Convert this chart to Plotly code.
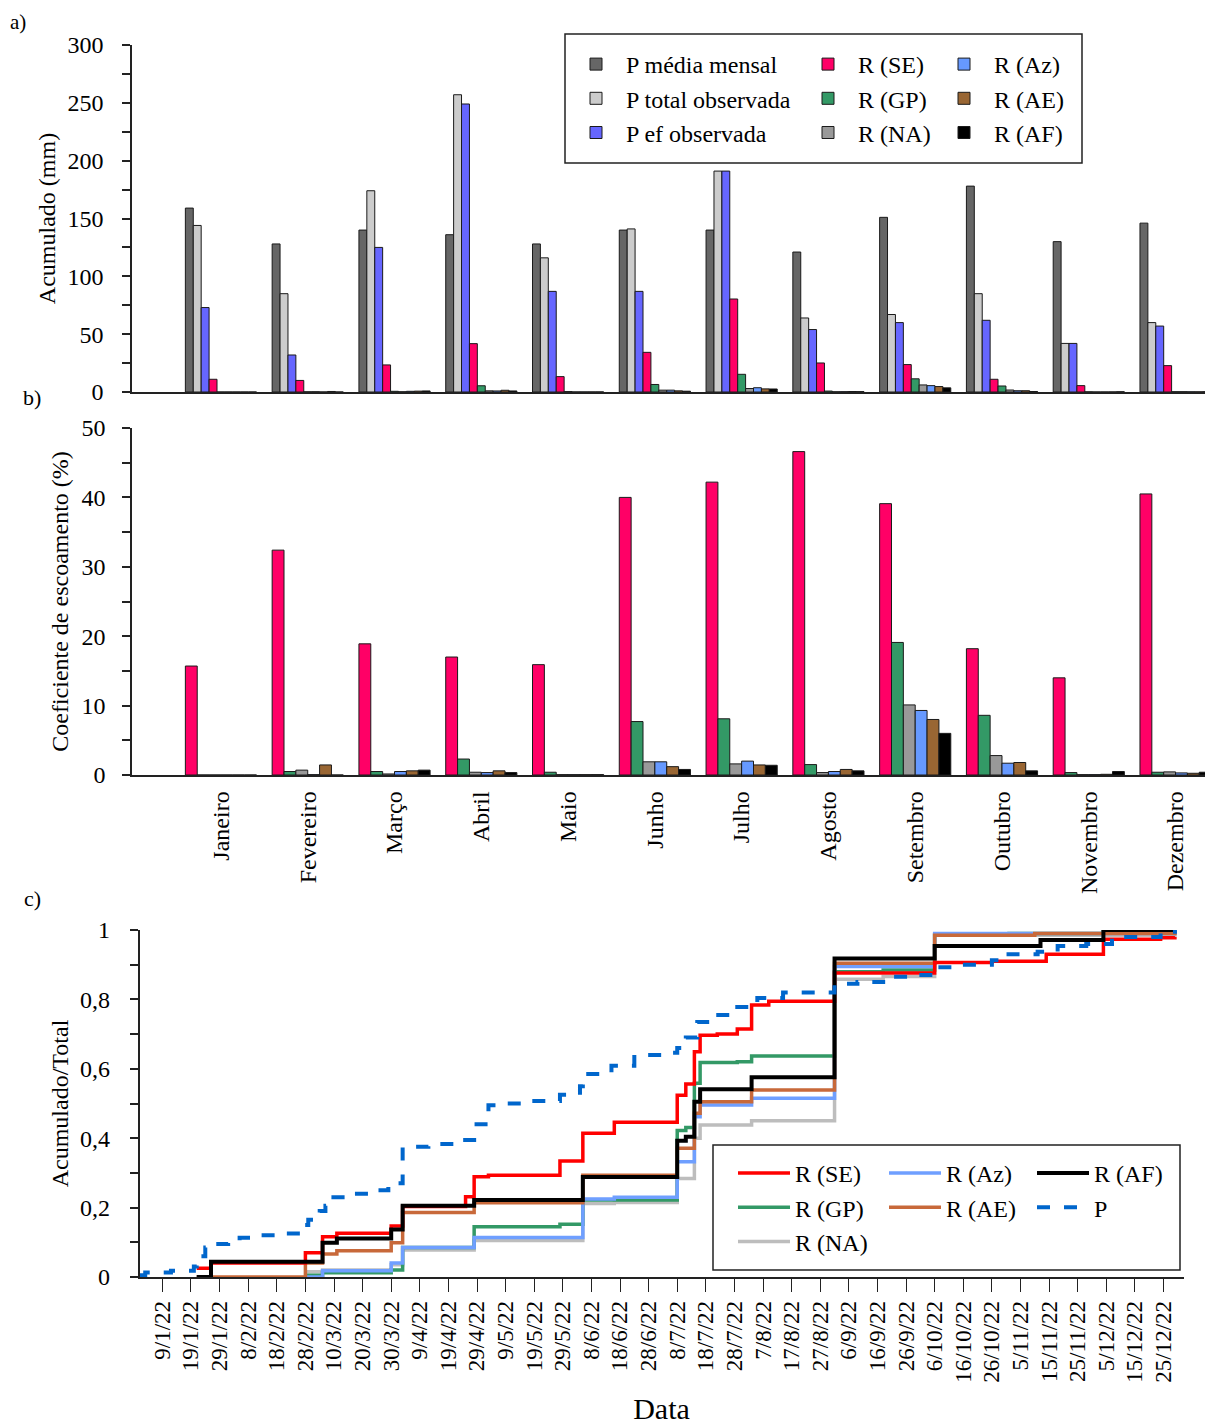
import plotly.graph_objects as go

W, H = 1213, 1424
FONT = "Liberation Serif"

# ---------------- data: panels a and b ----------------
MONTHS = ["Janeiro", "Fevereiro", "Março", "Abril", "Maio", "Junho", "Julho",
          "Agosto", "Setembro", "Outubro", "Novembro", "Dezembro"]

P_MEDIA = [159, 128, 140, 136, 128, 140, 140, 121, 151, 178, 130, 146]
P_TOTAL = [144, 85, 174, 257, 116, 141, 191, 64, 67, 85, 42, 60]
P_EF = [73, 32, 125, 249, 87, 87, 191, 54, 60, 62, 42, 57]
R_SE = [11, 10, 23.4, 41.8, 13.3, 34.3, 80.4, 25.1, 23.7, 11, 5.5, 22.8]
R_GP = [0, 0.16, 0.6, 5.4, 0.35, 6.5, 15.3, 0.8, 11.4, 5.2, 0.15, 0.23]
R_NA = [0, 0.22, 0.2, 1.0, 0.04, 1.6, 3.0, 0.2, 6.1, 1.7, 0.02, 0.26]
R_AZ = [0, 0.02, 0.6, 0.9, 0.04, 1.6, 3.7, 0.27, 5.5, 1.1, 0.02, 0.17]
R_AE = [0, 0.46, 0.75, 1.5, 0.04, 1.0, 2.7, 0.43, 4.7, 1.1, 0.04, 0.14]
R_AF = [0, 0, 0.9, 0.9, 0.04, 0.7, 2.6, 0.32, 3.6, 0.4, 0.2, 0.23]

C_SE = [15.7, 32.4, 18.9, 17.0, 15.9, 40.0, 42.2, 46.6, 39.1, 18.2, 14.0, 40.5]
C_GP = [0, 0.5, 0.5, 2.3, 0.4, 7.7, 8.1, 1.5, 19.1, 8.6, 0.35, 0.4]
C_NA = [0, 0.7, 0.15, 0.4, 0.05, 1.9, 1.6, 0.35, 10.1, 2.8, 0.05, 0.45]
C_AZ = [0, 0.05, 0.5, 0.35, 0.05, 1.9, 2.0, 0.5, 9.3, 1.7, 0.05, 0.3]
C_AE = [0, 1.45, 0.6, 0.6, 0.05, 1.2, 1.45, 0.8, 8.0, 1.8, 0.1, 0.25]
C_AF = [0, 0, 0.7, 0.35, 0.05, 0.8, 1.4, 0.6, 6.0, 0.6, 0.5, 0.4]

# ---------------- data: panel c (cumulative fraction, step series) ----------------
SE_DATES = ["2022-01-21", "2022-01-26", "2022-02-28", "2022-03-06", "2022-03-11", "2022-03-30",
            "2022-04-03", "2022-04-25", "2022-04-28", "2022-05-03", "2022-05-28", "2022-06-05",
            "2022-06-16", "2022-07-08", "2022-07-11", "2022-07-14", "2022-07-16", "2022-07-22",
            "2022-07-29", "2022-08-03", "2022-08-09", "2022-09-01", "2022-10-06", "2022-10-26",
            "2022-11-14", "2022-12-04", "2022-12-24", "2022-12-29"]
SE_VALS = [0.025, 0.04, 0.07, 0.116, 0.126, 0.147, 0.203, 0.231, 0.289, 0.293, 0.334, 0.414,
           0.446, 0.524, 0.556, 0.649, 0.697, 0.70, 0.715, 0.784, 0.795, 0.876, 0.906, 0.91,
           0.93, 0.973, 0.978, 0.98]

GP_DATES = ["2022-02-28", "2022-03-06", "2022-03-30", "2022-04-03", "2022-04-28", "2022-05-28",
            "2022-06-05", "2022-07-08", "2022-07-11", "2022-07-14", "2022-07-16", "2022-07-29",
            "2022-08-03", "2022-09-01", "2022-09-18", "2022-10-06", "2022-11-01", "2022-12-04",
            "2022-12-29"]
GP_VALS = [0.005, 0.012, 0.02, 0.085, 0.145, 0.152, 0.222, 0.422, 0.431, 0.558, 0.618, 0.62,
           0.637, 0.88, 0.885, 0.985, 0.99, 0.995, 0.997]

NA_DATES = ["2022-02-28", "2022-03-06", "2022-03-30", "2022-04-03", "2022-04-28", "2022-06-05",
            "2022-06-16", "2022-07-08", "2022-07-14", "2022-07-16", "2022-08-03", "2022-09-01",
            "2022-09-18", "2022-10-06", "2022-12-29"]
NA_VALS = [0.015, 0.02, 0.035, 0.078, 0.105, 0.212, 0.215, 0.284, 0.40, 0.438, 0.45, 0.858,
           0.866, 0.985, 0.995]

AZ_DATES = ["2022-02-28", "2022-03-06", "2022-03-30", "2022-04-03", "2022-04-28", "2022-06-05",
            "2022-06-16", "2022-07-08", "2022-07-14", "2022-07-16", "2022-08-03", "2022-09-01",
            "2022-10-06", "2022-12-29"]
AZ_VALS = [0.0, 0.018, 0.04, 0.085, 0.114, 0.225, 0.23, 0.332, 0.462, 0.496, 0.515, 0.895,
           0.99, 1.0]

AE_DATES = ["2022-01-21", "2022-02-28", "2022-03-06", "2022-03-11", "2022-03-30", "2022-04-03",
            "2022-04-28", "2022-06-05", "2022-07-08", "2022-07-14", "2022-07-16", "2022-08-03",
            "2022-09-01", "2022-10-06", "2022-11-10", "2022-12-29"]
AE_VALS = [0.0, 0.04, 0.066, 0.076, 0.099, 0.186, 0.214, 0.293, 0.371, 0.472, 0.505, 0.539,
           0.904, 0.985, 0.99, 0.998]

AF_DATES = ["2022-01-21", "2022-01-26", "2022-03-06", "2022-03-11", "2022-03-30", "2022-04-03",
            "2022-04-28", "2022-06-05", "2022-07-08", "2022-07-11", "2022-07-14", "2022-07-16",
            "2022-08-03", "2022-09-01", "2022-10-06", "2022-11-12", "2022-12-04", "2022-12-29"]
AF_VALS = [0.0, 0.044, 0.099, 0.111, 0.137, 0.205, 0.222, 0.288, 0.393, 0.404, 0.505, 0.541,
           0.576, 0.918, 0.954, 0.971, 1.0, 1.0]

P_DATES = ["2022-01-01", "2022-01-03", "2022-01-12", "2022-01-20", "2022-01-21", "2022-01-24",
           "2022-01-26", "2022-02-01", "2022-02-05", "2022-02-09", "2022-02-19", "2022-02-27",
           "2022-03-01", "2022-03-05", "2022-03-07", "2022-03-09", "2022-03-13", "2022-03-17",
           "2022-03-25", "2022-03-29", "2022-04-03", "2022-04-12", "2022-04-21", "2022-04-28",
           "2022-05-03", "2022-05-08", "2022-05-17", "2022-05-28", "2022-06-04", "2022-06-05",
           "2022-06-15", "2022-06-23", "2022-07-03", "2022-07-08", "2022-07-11", "2022-07-15",
           "2022-07-20", "2022-07-28", "2022-08-05", "2022-08-14", "2022-09-01", "2022-09-09",
           "2022-09-18", "2022-09-28", "2022-10-06", "2022-10-13", "2022-10-26", "2022-10-31",
           "2022-11-11", "2022-11-18", "2022-11-28", "2022-12-07", "2022-12-16", "2022-12-24",
           "2022-12-29"]
P_VALS = [0.005, 0.013, 0.018, 0.03, 0.06, 0.085, 0.095, 0.105, 0.113, 0.12, 0.125, 0.15,
          0.165, 0.19, 0.205, 0.23, 0.237, 0.24, 0.25, 0.27, 0.375, 0.383, 0.395, 0.44,
          0.495, 0.5, 0.507, 0.525, 0.55, 0.585, 0.609, 0.64, 0.646, 0.66, 0.69, 0.735,
          0.755, 0.778, 0.804, 0.82, 0.845, 0.85, 0.865, 0.87, 0.893, 0.9, 0.913, 0.93,
          0.937, 0.954, 0.96, 0.98, 0.98, 0.995, 1.0]

TICK_DATES = ["2022-01-09", "2022-01-19", "2022-01-29", "2022-02-08", "2022-02-18", "2022-02-28",
              "2022-03-10", "2022-03-20", "2022-03-30", "2022-04-09", "2022-04-19", "2022-04-29",
              "2022-05-09", "2022-05-19", "2022-05-29", "2022-06-08", "2022-06-18", "2022-06-28",
              "2022-07-08", "2022-07-18", "2022-07-28", "2022-08-07", "2022-08-17", "2022-08-27",
              "2022-09-06", "2022-09-16", "2022-09-26", "2022-10-06", "2022-10-16", "2022-10-26",
              "2022-11-05", "2022-11-15", "2022-11-25", "2022-12-05", "2022-12-15", "2022-12-25"]
TICK_LABELS = ["9/1/22", "19/1/22", "29/1/22", "8/2/22", "18/2/22", "28/2/22",
               "10/3/22", "20/3/22", "30/3/22", "9/4/22", "19/4/22", "29/4/22",
               "9/5/22", "19/5/22", "29/5/22", "8/6/22", "18/6/22", "28/6/22",
               "8/7/22", "18/7/22", "28/7/22", "7/8/22", "17/8/22", "27/8/22",
               "6/9/22", "16/9/22", "26/9/22", "6/10/22", "16/10/22", "26/10/22",
               "5/11/22", "15/11/22", "25/11/22", "5/12/22", "15/12/22", "25/12/22"]

# ---------------- helpers (page body margin of 8 px compensated) ----------------
OFF = 8


def fx(p):
    return (p - OFF) / W


def fy(p):
    return 1 - (p - OFF) / H


BAR_COLORS = {
    "P média mensal": "#666666", "P total observada": "#cccccc", "P ef observada": "#6666ff",
    "R (SE)": "#ff0066", "R (GP)": "#339966", "R (NA)": "#999999",
    "R (Az)": "#6699ff", "R (AE)": "#996633", "R (AF)": "#000000",
}

fig = go.Figure()

# panel a
a_series = [
    ("P média mensal", P_MEDIA, "legend"), ("P total observada", P_TOTAL, "legend"),
    ("P ef observada", P_EF, "legend"), ("R (SE)", R_SE, "legend2"), ("R (GP)", R_GP, "legend2"),
    ("R (NA)", R_NA, "legend2"), ("R (Az)", R_AZ, "legend3"), ("R (AE)", R_AE, "legend3"),
    ("R (AF)", R_AF, "legend3"),
]
for name, vals, leg in a_series:
    fig.add_trace(go.Bar(
        x=MONTHS, y=vals, name=name, xaxis="x", yaxis="y", legend=leg, legendgroup=name,
        marker=dict(color=BAR_COLORS[name], line=dict(color="#1a1a1a", width=1)),
    ))

# panel b
b_series = [("R (SE)", C_SE, "legend2"), ("R (GP)", C_GP, "legend2"), ("R (NA)", C_NA, "legend2"),
            ("R (Az)", C_AZ, "legend3"), ("R (AE)", C_AE, "legend3"), ("R (AF)", C_AF, "legend3")]
for name, vals, leg in b_series:
    fig.add_trace(go.Bar(
        x=MONTHS, y=vals, name=name, xaxis="x2", yaxis="y2", legend=leg, legendgroup=name,
        showlegend=False,
        marker=dict(color=BAR_COLORS[name], line=dict(color="#1a1a1a", width=1)),
    ))

# panel c (draw order chosen so black / dashed P sit on top)
c_series = [
    ("R (NA)", NA_DATES, NA_VALS, "#bdbdbd", 3.5, "solid", "legend4", 3),
    ("R (GP)", GP_DATES, GP_VALS, "#339966", 3.5, "solid", "legend4", 2),
    ("R (Az)", AZ_DATES, AZ_VALS, "#6f9fff", 3.5, "solid", "legend5", 1),
    ("R (AE)", AE_DATES, AE_VALS, "#c8693a", 3.5, "solid", "legend5", 2),
    ("R (SE)", SE_DATES, SE_VALS, "#ff0000", 3.5, "solid", "legend4", 1),
    ("R (AF)", AF_DATES, AF_VALS, "#000000", 4, "solid", "legend6", 1),
    ("P", P_DATES, P_VALS, "#0066cc", 4, "13px,14px", "legend6", 2),
]
for name, xs, ys, col, lw, dash, leg, rank in c_series:
    fig.add_trace(go.Scatter(
        x=xs, y=ys, name=name, mode="lines", xaxis="x3", yaxis="y3",
        line=dict(color=col, width=lw, shape="hv", dash=dash),
        legend=leg, legendrank=rank,
    ))

axis_common = dict(showline=True, linecolor="#222222", linewidth=1.5, mirror=False,
                   showgrid=False, zeroline=False,
                   tickfont=dict(family=FONT, size=24, color="black"))

ylin = dict(ticks="outside", ticklen=8, tickwidth=1.5, tickcolor="#222222")
minor_style = dict(ticks="outside", ticklen=8, tickwidth=1.5, tickcolor="#222222")

leg_common = dict(bgcolor="rgba(0,0,0,0)", borderwidth=0, orientation="v",
                  xanchor="left", yanchor="top", tracegroupgap=0,
                  font=dict(family=FONT, size=24, color="black"))

fig.update_layout(
    width=W, height=H,
    margin=dict(l=0, r=0, t=0, b=0),
    paper_bgcolor="white", plot_bgcolor="white",
    template="none",
    separators=",.",
    barmode="group", bargap=0.18, bargroupgap=0,
    font=dict(family=FONT, size=24, color="black"),
    xaxis=dict(domain=[fx(132), fx(1212)], anchor="y", range=[-1.025, 11.42],
               showticklabels=False, ticks="", **axis_common),
    yaxis=dict(domain=[fy(392), fy(45)], anchor="x", range=[0, 300], dtick=50, tick0=0,
               minor=dict(dtick=25, **minor_style),
               ticklabelstandoff=14,
               title=dict(text="Acumulado (mm)", standoff=5, font=dict(family=FONT, size=24)),
               **ylin, **axis_common),
    xaxis2=dict(domain=[fx(132), fx(1212)], anchor="y2", range=[-1.025, 11.42],
                ticks="", tickangle=-90, ticklabelstandoff=5, **axis_common),
    yaxis2=dict(domain=[fy(775), fy(428)], anchor="x2", range=[0, 50], dtick=10, tick0=0,
                minor=dict(dtick=5, **minor_style),
                ticklabelstandoff=12,
                title=dict(text="Coeficiente de escoamento (%)", standoff=6,
                           font=dict(family=FONT, size=24)),
                **ylin, **axis_common),
    xaxis3=dict(domain=[fx(139.5), fx(1183.5)], anchor="y3", type="date",
                range=["2022-01-01", "2023-01-01"],
                tickmode="array", tickvals=TICK_DATES, ticktext=TICK_LABELS,
                tickangle=-90, ticks="outside", ticklen=13, tickwidth=1.2, tickcolor="#222222",
                ticklabelstandoff=0,
                title=dict(text="Data", standoff=16, font=dict(family=FONT, size=30)),
                showline=True, linecolor="#222222", linewidth=1.5, showgrid=False, zeroline=False,
                tickfont=dict(family=FONT, size=23, color="black")),
    yaxis3=dict(domain=[fy(1277), fy(930)], anchor="x3", range=[0, 1], dtick=0.2, tick0=0,
                minor=dict(dtick=0.1, **minor_style),
                ticklabelstandoff=15,
                title=dict(text="Acumulado/Total", standoff=5, font=dict(family=FONT, size=24)),
                **ylin, **axis_common),
    legend=dict(x=fx(566), y=fy(42), itemwidth=50, **leg_common),
    legend2=dict(x=fx(798), y=fy(42), itemwidth=50, **leg_common),
    legend3=dict(x=fx(934), y=fy(42), itemwidth=50, **leg_common),
    legend4=dict(x=fx(733), y=fy(1151), itemwidth=52, **leg_common),
    legend5=dict(x=fx(884), y=fy(1151), itemwidth=52, **leg_common),
    legend6=dict(x=fx(1032), y=fy(1151), itemwidth=52, **leg_common),
    shapes=[
        dict(type="rect", xref="paper", yref="paper", x0=fx(565), x1=fx(1082), y0=fy(163), y1=fy(34),
             line=dict(color="#222222", width=1.5), fillcolor="rgba(0,0,0,0)", layer="above"),
        dict(type="rect", xref="paper", yref="paper", x0=fx(713), x1=fx(1180), y0=fy(1270), y1=fy(1145),
             line=dict(color="#222222", width=1.5), fillcolor="rgba(0,0,0,0)", layer="above"),
    ],
    annotations=[
        dict(text="a)", xref="paper", yref="paper", x=0, y=1, xanchor="left", yanchor="top",
             showarrow=False, font=dict(family=FONT, size=21)),
        dict(text="b)", xref="paper", yref="paper", x=fx(21), y=fy(398), xanchor="left", yanchor="middle",
             showarrow=False, font=dict(family=FONT, size=22)),
        dict(text="c)", xref="paper", yref="paper", x=fx(22), y=fy(898), xanchor="left", yanchor="middle",
             showarrow=False, font=dict(family=FONT, size=22)),
    ],
)

fig.write_html("out.html")
